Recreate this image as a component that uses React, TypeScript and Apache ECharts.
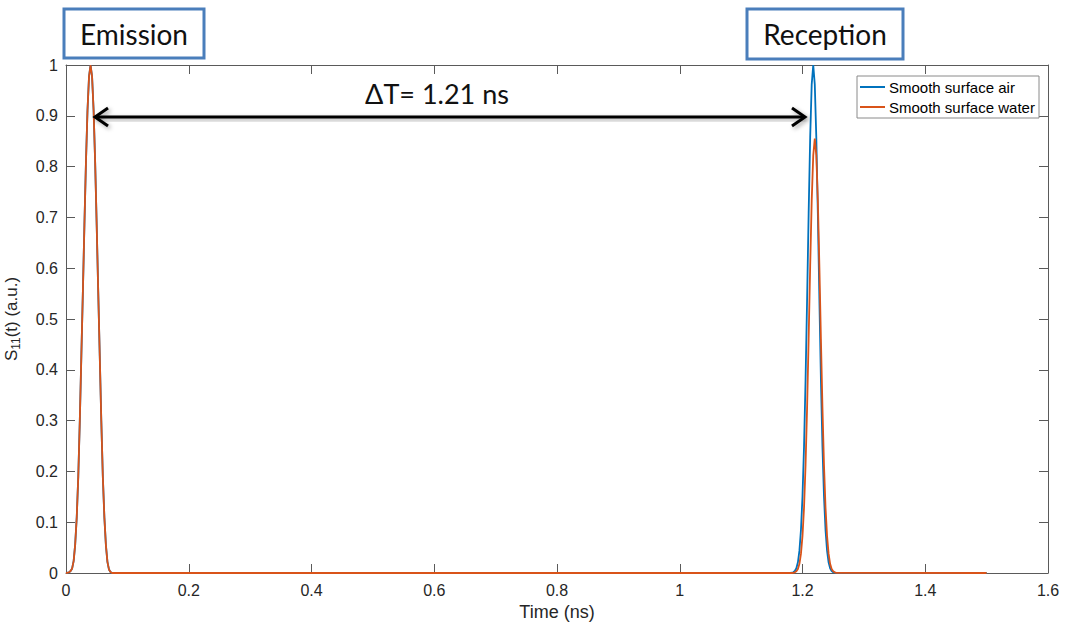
import React, { useEffect, useRef } from "react";
import * as echarts from "echarts";

// Emission pulse (both series coincide)
const emissionTime = [0, 0.0025, 0.005, 0.0075, 0.01, 0.0125, 0.015, 0.0175, 0.02, 0.0225, 0.025, 0.0275, 0.03, 0.0325, 0.035, 0.0375, 0.04, 0.0425, 0.045, 0.0475, 0.05, 0.0525, 0.055, 0.0575, 0.06, 0.0625, 0.065, 0.0675, 0.07, 0.0725, 0.075, 0.08];
const emissionValues = [0, 0.0005, 0.0015, 0.004, 0.009, 0.024, 0.057, 0.11, 0.19, 0.3, 0.427, 0.554, 0.685, 0.808, 0.91, 0.977, 1.0, 0.977, 0.91, 0.808, 0.685, 0.554, 0.427, 0.3, 0.19, 0.11, 0.055, 0.022, 0.007, 0.002, 0, 0];

// Reception pulse
const receptionTime = [1.18, 1.1825, 1.185, 1.1875, 1.19, 1.1925, 1.195, 1.1975, 1.2, 1.2025, 1.205, 1.2075, 1.21, 1.2125, 1.215, 1.2175, 1.22, 1.2225, 1.225, 1.2275, 1.23, 1.2325, 1.235, 1.2375, 1.24, 1.2425, 1.245, 1.2475, 1.25, 1.2525, 1.255];
const airReception = [0, 0.0005, 0.0015, 0.0039, 0.0094, 0.021, 0.044, 0.085, 0.151, 0.249, 0.381, 0.539, 0.707, 0.857, 0.962, 1.0, 0.962, 0.857, 0.707, 0.539, 0.381, 0.249, 0.151, 0.085, 0.044, 0.021, 0.0094, 0.0039, 0.0015, 0.0005, 0];
const waterReception = [0, 0, 0.0004, 0.0013, 0.0033, 0.008, 0.018, 0.038, 0.073, 0.129, 0.213, 0.326, 0.461, 0.604, 0.733, 0.822, 0.855, 0.822, 0.733, 0.604, 0.461, 0.326, 0.213, 0.129, 0.073, 0.038, 0.018, 0.008, 0.0033, 0.0013, 0.0004];

const endTime = 1.5;
const seriesNames = ["Smooth surface air", "Smooth surface water"];
const xTicks = { min: 0, max: 1.6, interval: 0.2 };
const yTicks = { min: 0, max: 1, interval: 0.1 };

function buildSeries(rec: number[]) {
  const d: number[][] = [];
  emissionTime.forEach((t, i) => d.push([t, emissionValues[i]]));
  receptionTime.forEach((t, i) => d.push([t, rec[i]]));
  d.push([endTime, 0]);
  return d;
}

const axisColor = "#5a5a5a";
const labelColor = "#262626";
const tickFont = "Liberation Sans";

export default function App() {
  const ref = useRef<HTMLDivElement>(null);
  useEffect(() => {
    if (!ref.current) return;
    const chart = echarts.init(ref.current, null, { renderer: "svg" });
    const hiddenAxis = {
      axisTick: { show: true, inside: true, length: 9, lineStyle: { color: axisColor } },
      axisLabel: { show: false },
      splitLine: { show: false },
    };
    const shadow = { shadowBlur: 4, shadowColor: "rgba(0,0,0,0.35)", shadowOffsetX: 2, shadowOffsetY: 2 };
    chart.setOption({
      animation: false,
      backgroundColor: "#ffffff",
      grid: { left: 66, right: 18, top: 65, bottom: 52, containLabel: false, outerBoundsMode: "none" },
      xAxis: [
        {
          type: "value",
          ...xTicks,
          position: "bottom",
          name: "Time (ns)",
          nameLocation: "middle",
          nameGap: 29,
          nameTextStyle: { fontFamily: tickFont, fontSize: 18, color: labelColor },
          axisLine: { show: true, onZero: false, lineStyle: { color: axisColor, width: 1 } },
          axisTick: { show: true, inside: true, length: 9, lineStyle: { color: axisColor } },
          axisLabel: { fontFamily: tickFont, fontSize: 16, color: labelColor, margin: 9 },
          splitLine: { show: false },
        },
        { type: "value", ...xTicks, position: "top", ...hiddenAxis, axisLine: { show: true, onZero: false, lineStyle: { color: axisColor } } },
      ],
      yAxis: [
        {
          type: "value",
          ...yTicks,
          position: "left",
          name: "{a|S}{s|11}{a|(t) (a.u.)}",
          nameLocation: "middle",
          nameGap: 44,
          nameRotate: 90,
          nameTextStyle: {
            rich: {
              a: { fontFamily: tickFont, fontSize: 17, color: labelColor },
              s: { fontFamily: tickFont, fontSize: 12, color: labelColor, padding: [9, 0, 0, 0] },
            },
          },
          axisLine: { show: true, onZero: false, lineStyle: { color: axisColor, width: 1 } },
          axisTick: { show: true, inside: true, length: 9, lineStyle: { color: axisColor } },
          axisLabel: { fontFamily: tickFont, fontSize: 16, color: labelColor, margin: 8 },
          splitLine: { show: false },
        },
        { type: "value", ...yTicks, position: "right", ...hiddenAxis, axisLine: { show: true, onZero: false, lineStyle: { color: axisColor } } },
      ],
      legend: {
        show: true,
        orient: "vertical",
        left: 860,
        top: 77,
        padding: 0,
        itemGap: 0,
        itemWidth: 25,
        itemHeight: 2,
        icon: "rect",
        z: 10,
        textStyle: { fontFamily: tickFont, fontSize: 15, color: "#000", lineHeight: 20, padding: [0, 0, 0, -1] },
        data: seriesNames,
      },
      series: [
        {
          name: seriesNames[0],
          type: "line",
          symbol: "none",
          data: buildSeries(airReception),
          lineStyle: { color: "#0072BD", width: 1.8 },
          itemStyle: { color: "#0072BD" },
          z: 2,
        },
        {
          name: seriesNames[1],
          type: "line",
          symbol: "none",
          data: buildSeries(waterReception),
          lineStyle: { color: "#D95319", width: 1.8 },
          itemStyle: { color: "#D95319" },
          z: 3,
        },
      ],
      graphic: [
        {
          type: "rect",
          z: 5,
          shape: { x: 857, y: 76, width: 182, height: 42 },
          style: { fill: "#ffffff", stroke: "#8a8a8a", lineWidth: 1 },
        },
        {
          type: "rect",
          z: 5,
          shape: { x: 64, y: 9, width: 140, height: 49 },
          style: { fill: "#ffffff", stroke: "#4a7ebb", lineWidth: 3 },
        },
        {
          type: "text",
          z: 6,
          x: 134,
          y: 34,
          style: { text: "Emission", font: "28px Lato", fill: "#111", align: "center", verticalAlign: "middle" },
        },
        {
          type: "rect",
          z: 5,
          shape: { x: 747, y: 9, width: 156, height: 50 },
          style: { fill: "#ffffff", stroke: "#4a7ebb", lineWidth: 3 },
        },
        {
          type: "text",
          z: 6,
          x: 825,
          y: 34,
          style: { text: "Reception", font: "28px Lato", fill: "#111", align: "center", verticalAlign: "middle" },
        },
        {
          type: "text",
          z: 6,
          x: 437,
          y: 93,
          style: { text: "ΔT= 1.21 ns", font: "27px Lato", fill: "#111", align: "center", verticalAlign: "middle" },
        },
        {
          type: "rect",
          z: 6,
          shape: { x: 97, y: 115.5, width: 706, height: 3 },
          style: { fill: "#000", ...shadow },
        },
        {
          type: "polyline",
          z: 6,
          shape: { points: [[108, 108], [95, 117], [108, 126]] },
          style: { stroke: "#000", fill: "none", lineWidth: 3, ...shadow },
        },
        {
          type: "polyline",
          z: 6,
          shape: { points: [[792, 108], [805, 117], [792, 126]] },
          style: { stroke: "#000", fill: "none", lineWidth: 3, ...shadow },
        },
      ],
    });
    return () => chart.dispose();
  }, []);
  return <div ref={ref} style={{ position: "absolute", left: 0, top: 0, width: 1066, height: 625 }} />;
}
